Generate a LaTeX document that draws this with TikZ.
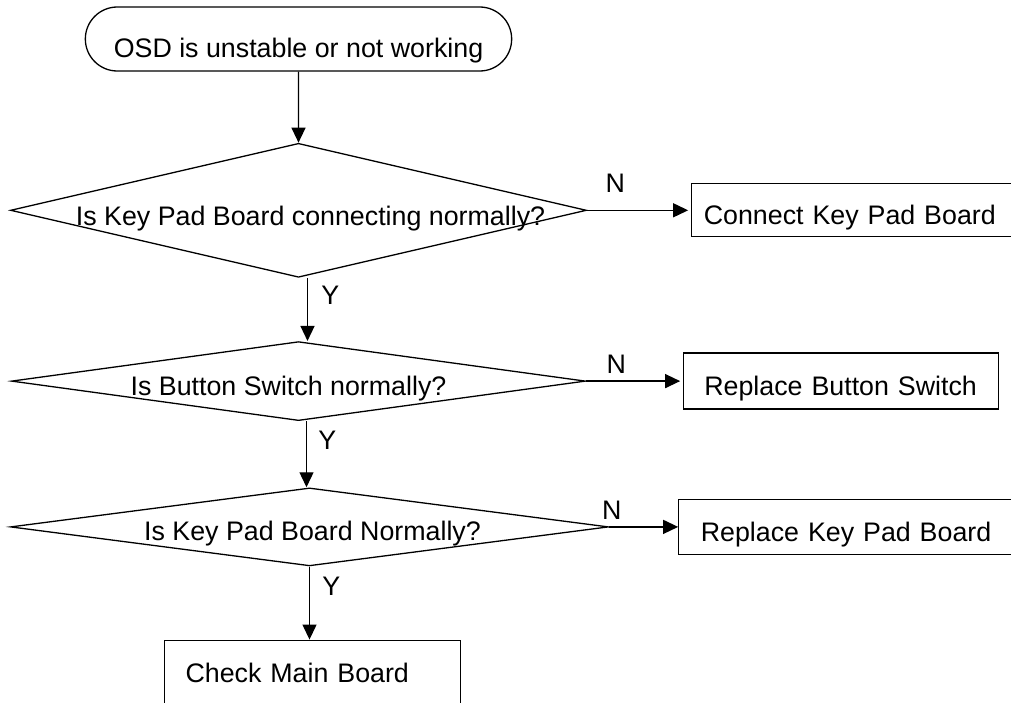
\documentclass[tikz,border=0pt]{standalone}
\usepackage{fontspec}
\setmainfont{Liberation Sans}
\usetikzlibrary{positioning,arrows.meta,shapes.geometric,shapes.misc}
\tikzset{
    decision/.style={draw, diamond, line width=1.3pt, inner sep=0pt},
    actbox/.style={draw, rectangle, line width=1.3pt, align=left, text height=29pt, text depth=0pt, inner ysep=0pt},
    qtext/.style={anchor=base, inner sep=0pt},
    flow/.style={line width=1.3pt, -{Triangle[length=15pt,width=14pt]}}
}

\begin{document}
\begin{tikzpicture}[font=\fontsize{26.8pt}{30pt}\selectfont]
    \useasboundingbox (0,0) rectangle (1011pt,-702pt);
    \clip (0,0) rectangle (1011pt,-702pt);
    \node[draw, rounded rectangle, line width=1.3pt, minimum width=433pt, minimum height=64pt, text height=36pt, text depth=0pt](start) at (298.5pt,-39pt){OSD is unstable or not working};
    \node[decision, below=71pt of start, minimum width=576pt, minimum height=134pt](D1){};
    \node[decision, below=63pt of D1, minimum width=574pt, minimum height=79pt](D2){};
    \node[decision, below=66pt of D2, xshift=11pt, minimum width=598pt, minimum height=78pt](D3){};
    \node[qtext](T1) at ([xshift=12pt,yshift=-15pt]D1.center){Is Key Pad Board connecting normally?};
    \node[qtext](T2) at ([xshift=-10pt,yshift=-14pt]D2.center){Is Button Switch normally?};
    \node[qtext](T3) at ([xshift=3pt,yshift=-14pt]D3.center){Is Key Pad Board Normally?};
    \node[actbox, right=104pt of D1, text width=325pt, inner xsep=12pt, minimum height=53pt](C1){Connect Key Pad Board};
    \node[actbox, right=97pt of D2, text width=274pt, inner xsep=20.5pt, minimum height=56pt](C2){Replace Button Switch};
    \node[actbox, right=69pt of D3, text width=317pt, inner xsep=22pt, minimum height=55pt](C3){Replace Key Pad Board};
    \node[actbox, below=73pt of D3, xshift=3pt, text width=254pt, inner xsep=21pt, minimum height=84pt, text height=14pt, text depth=14pt](M4){Check Main Board};
    % yes branches
    \draw[flow](start)--(D1);
    \draw[flow]([xshift=9pt]D1.south)--([xshift=9pt]D2.north) node[pos=.27, right=10pt](Y1){Y};
    \draw[flow]([xshift=8pt]D2.south)--([xshift=-3pt]D3.north) node[pos=.29, right=8pt](Y2){Y};
    \draw[flow](D3.south)--(D3.south |- M4.north) node[pos=.27, right=9pt](Y3){Y};
    % no branches
    \draw[flow, shorten >=3pt](D1.east)--(D1.east -| C1.west) node[pos=.27, above=14pt](N1){N};
    \draw[flow, shorten >=3pt](D2.east)--(D2.east -| C2.west) node[pos=.31, above=4pt](N2){N};
    \draw[flow](D3.east)--(D3.east -| C3.west) node[pos=.04, above=3pt](N3){N};
\end{tikzpicture}
\end{document}
